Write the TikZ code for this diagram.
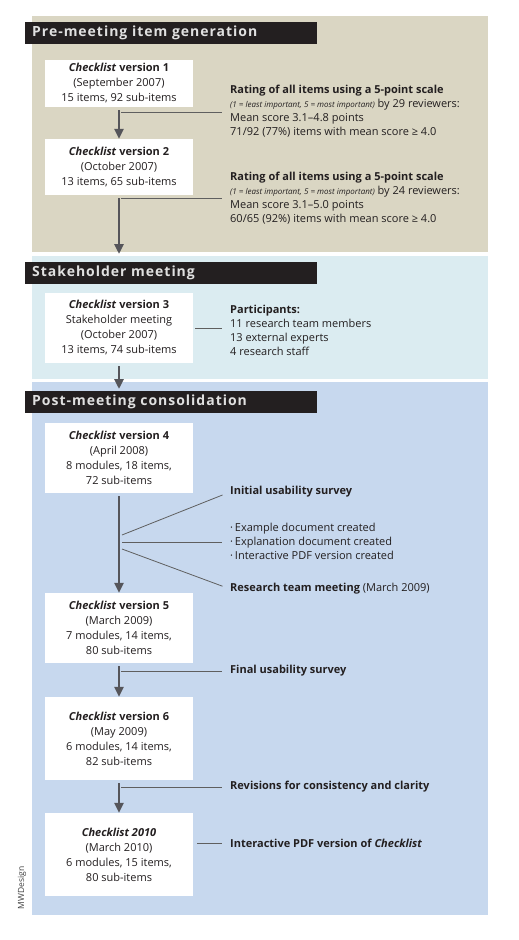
\documentclass[tikz,border=0pt]{standalone}
\usepackage{fontspec}
\setmainfont{Open Sans}
\newfontfamily\headfont[LetterSpace=7]{Open Sans}
\usetikzlibrary{arrows.meta}

\definecolor{beigebg}{RGB}{218,214,195}
\definecolor{cyanbg}{RGB}{219,236,241}
\definecolor{bluebg}{RGB}{199,216,238}
\definecolor{headbg}{RGB}{35,31,32}
\definecolor{headtxt}{RGB}{224,224,224}
\definecolor{arrowgray}{RGB}{85,85,90}
\definecolor{linegray}{RGB}{95,95,95}
\definecolor{inkgray}{RGB}{35,31,32}

\newcommand{\ckl}{\textbf{\textit{Checklist}}}

\begin{document}
\begin{tikzpicture}[x=1pt, y=-1pt,
    every node/.style={font=\fontsize{11}{15}\selectfont, text=inkgray},
    version/.style={fill=white, minimum width=148pt, align=center, inner sep=0pt},
    phase/.style={fill=headbg, text=headtxt, font=\headfont\bfseries\fontsize{14}{16}\selectfont,
        anchor=west, minimum height=22pt, text width=278pt, inner xsep=7pt, inner ysep=0pt},
    side/.style={anchor=west, align=left, inner sep=0pt, font=\fontsize{11}{14}\selectfont},
    flow/.style={draw=arrowgray, line width=2.6pt, -{Triangle[width=9pt,length=10pt]}},
    link/.style={draw=linegray, line width=0.8pt}]

    \useasboundingbox (0,0) rectangle (519,940);

    % Three stage panels
    \fill[beigebg] (32,16) rectangle (488,252);
    \fill[cyanbg] (32,256) rectangle (488,379);
    \fill[bluebg] (32,382) rectangle (488,915);

    % Stage headings
    \node[phase] (h1) at (25,33) {Pre-meeting item generation};
    \node[phase] (h2) at (25,273) {Stakeholder meeting};
    \node[phase] (h3) at (25,402) {Post-meeting consolidation};

    % Versions of the checklist
    \node[version, minimum height=47pt] (v1) at (119,83.5) {\ckl\ \textbf{version 1}\\(September 2007)\\15 items, 92 sub-items};
    \node[version, minimum height=56pt] (v2) at (119,167) {\ckl\ \textbf{version 2}\\(October 2007)\\13 items, 65 sub-items};
    \node[version, minimum height=70pt] (v3) at (119,328) {\ckl\ \textbf{version 3}\\Stakeholder meeting\\(October 2007)\\13 items, 74 sub-items};
    \node[version, minimum height=70pt] (v4) at (119,458) {\ckl\ \textbf{version 4}\\(April 2008)\\8 modules, 18 items,\\72 sub-items};
    \node[version, minimum height=70pt] (v5) at (119,628) {\ckl\ \textbf{version 5}\\(March 2009)\\7 modules, 14 items,\\80 sub-items};
    \node[version, minimum height=83pt] (v6) at (119,738.5) {\ckl\ \textbf{version 6}\\(May 2009)\\6 modules, 14 items,\\82 sub-items};
    \node[version, minimum height=83pt] (v7) at (119,854.5) {\textbf{\textit{Checklist 2010}}\\(March 2010)\\6 modules, 15 items,\\80 sub-items};

    % Notes on the right
    \node[side] (rate1) at (230,111) {\textbf{Rating of all items using a 5-point scale}\\
        {\fontsize{8}{14}\selectfont\itshape (1 = least important, 5 = most important)} by 29 reviewers:\\
        Mean score 3.1--4.8 points\\71/92 (77\%) items with mean score ≥ 4.0};
    \node[side] (rate2) at (230,198) {\textbf{Rating of all items using a 5-point scale}\\
        {\fontsize{8}{14}\selectfont\itshape (1 = least important, 5 = most important)} by 24 reviewers:\\
        Mean score 3.1--5.0 points\\60/65 (92\%) items with mean score ≥ 4.0};
    \node[side] (part) at (230,330.5) {\textbf{Participants:}\\11 research team members\\13 external experts\\4 research staff};
    \node[side] (init) at (230,492) {\textbf{Initial usability survey}};
    \node[side] (todo) at (230,541) {·\,Example document created\\·\,Explanation document created\\·\,Interactive PDF version created};
    \node[side] (team) at (230,589) {\textbf{Research team meeting} (March 2009)};
    \node[side] (final) at (230,671) {\textbf{Final usability survey}};
    \node[side] (revis) at (230,787) {\textbf{Revisions for consistency and clarity}};
    \node[side] (pdf) at (230,843) {\textbf{Interactive PDF version of \textit{Checklist}}};

    \node[rotate=90, font=\fontsize{8.5}{9}\selectfont, text=black!75] (credit) at (22,888) {MWDesign};

    % Main flow
    \coordinate (e2) at (119,254);
    \coordinate (e3) at (119,389);
    \draw[flow, shorten <=3pt] (v1) -- (v2);
    \draw[flow, shorten <=3pt] (v2) -- (e2);
    \draw[flow, shorten <=3pt] (v3) -- (e3);
    \draw[flow, shorten <=3pt] (v4) -- (v5);
    \draw[flow, shorten <=3pt] (v5) -- (v6);
    \draw[flow, shorten <=3pt] (v6) -- (v7);

    % Side links
    \coordinate (j1) at (121,112);
    \coordinate (j2) at (121,198);
    \coordinate (j4a) at (122,535);
    \coordinate (j4b) at (122,542);
    \coordinate (j4c) at (122,549);
    \coordinate (j5) at (121,671);
    \coordinate (j6) at (121,787);
    \draw[link, shorten >=8pt] (j1) -- (j1 -| rate1.west);
    \draw[link, shorten >=8pt] (j2) -- (j2 -| rate2.west);
    \draw[link, shorten <=2pt, shorten >=8pt] (v3.east) -- (v3.east -| part.west);
    \draw[link, shorten >=8pt] (j4a) -- (init.west);
    \draw[link, shorten >=8pt] (j4b) -- (j4b -| todo.west);
    \draw[link, shorten >=8pt] (j4c) -- (team.west);
    \draw[link, shorten >=8pt] (j5) -- (j5 -| final.west);
    \draw[link, shorten >=8pt] (j6) -- (j6 -| revis.west);
    \draw[link, shorten <=4pt, shorten >=8pt] (v7.east |- pdf.west) -- (pdf.west);
\end{tikzpicture}
\end{document}
